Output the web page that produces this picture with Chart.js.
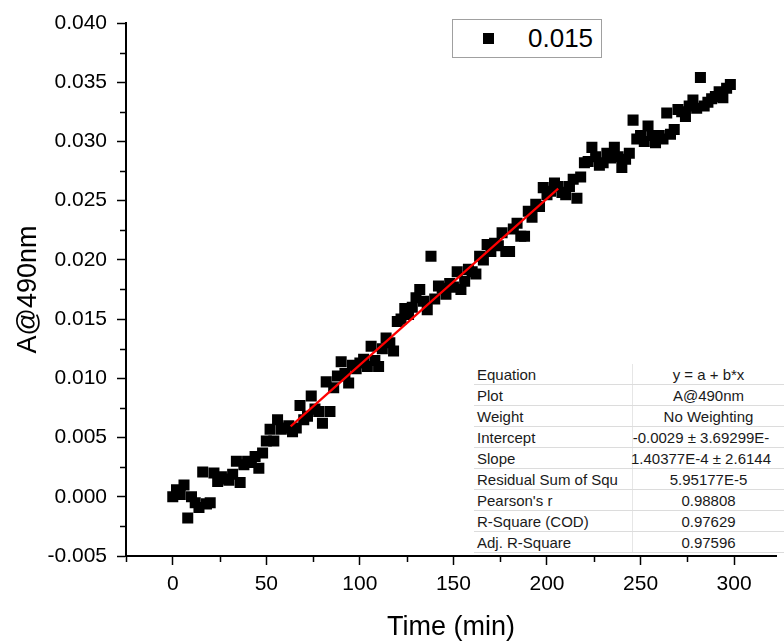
<!DOCTYPE html>
<html>
<head>
<meta charset="utf-8">
<title>A@490nm vs Time</title>
<script src="https://cdn.jsdelivr.net/npm/chart.js@4.4.1/dist/chart.umd.min.js"></script>
<style>
    html, body { margin: 0; padding: 0; background: #fff; overflow: hidden; }
    #wrap { position: relative; width: 784px; height: 641px; overflow: hidden; }
    #chart { position: absolute; left: 0; top: 0; }
    #legend {
        position: absolute; left: 452px; top: 19px; width: 148px; height: 37px;
        border: 1px solid #a0a0a0; background: #fff;
        font: 26px "Liberation Sans", Arial, sans-serif; color: #000;
    }
    #legend .mark { position: absolute; left: 30px; top: 13px; width: 11px; height: 11px; background: #000; }
    #legend .text { position: absolute; left: 75px; top: 0; line-height: 37px; }
    #stats {
        position: absolute; left: 474px; top: 364px; width: 310px;
        border-collapse: collapse; table-layout: fixed; background: #fff;
        font: 15px "Liberation Sans", Arial, sans-serif; color: #1a1a1a;
    }
    #stats td { height: 20px; padding: 0; border-bottom: 1px solid #dcdcdc; white-space: nowrap; }
    #stats td.name { width: 155px; padding-left: 3px; border-right: 1px solid #e6e6e6; }
    #stats td.val { width: 151px; text-align: center; overflow: visible; }
    #stats td.val .wide { display: inline-block; width: 168px; margin-left: -16px; text-align: center; }
</style>
</head>
<body>
<div id="wrap">
    <canvas id="chart" width="784" height="641"></canvas>
    <div id="legend"></div>
    <table id="stats"></table>
</div>
<script>
// measured time points (min)
const timeMin = [
    0, 2, 4, 6, 8, 10, 12, 14, 16, 18,
    20, 22, 24, 26, 28, 30, 32, 34, 36, 38,
    40, 42, 44, 46, 48, 50, 52, 54, 56, 58,
    60, 62, 64, 66, 68, 70, 72, 74, 76, 78,
    80, 82, 84, 86, 88, 90, 92, 94, 96, 98,
    100, 102, 104, 106, 108, 110, 112, 114, 116, 118,
    120, 122, 124, 126, 128, 130, 132, 134, 136, 138,
    140, 142, 144, 146, 148, 150, 152, 154, 156, 158,
    160, 162, 164, 166, 168, 170, 172, 174, 176, 178,
    180, 182, 184, 186, 188, 190, 192, 194, 196, 198,
    200, 202, 204, 206, 208, 210, 212, 214, 216, 218,
    220, 222, 224, 226, 228, 230, 232, 234, 236, 238,
    240, 242, 244, 246, 248, 250, 252, 254, 256, 258,
    260, 262, 264, 266, 268, 270, 272, 274, 276, 278,
    280, 282, 284, 286, 288, 290, 292, 294, 296, 298
];

// absorbance at 490 nm
const absorbance = [
    0.0000, 0.0006, 0.0002, 0.0010, -0.0018, 0.0000, -0.0005, -0.0009, 0.0021, -0.0006,
    -0.0005, 0.0020, 0.0013, 0.0017, 0.0015, 0.0014, 0.0019, 0.0030, 0.0012, 0.0027,
    0.0030, 0.0029, 0.0034, 0.0024, 0.0037, 0.0047, 0.0057, 0.0047, 0.0065, 0.0057,
    0.0058, 0.0060, 0.0055, 0.0058, 0.0077, 0.0065, 0.0068, 0.0085, 0.0074, 0.0072,
    0.0062, 0.0097, 0.0072, 0.0092, 0.0102, 0.0114, 0.0104, 0.0096, 0.0111, 0.0108,
    0.0113, 0.0116, 0.0110, 0.0127, 0.0115, 0.0110, 0.0125, 0.0134, 0.0130, 0.0123,
    0.0148, 0.0150, 0.0159, 0.0154, 0.0160, 0.0168, 0.0175, 0.0165, 0.0158, 0.0203,
    0.0167, 0.0178, 0.0176, 0.0171, 0.0180, 0.0177, 0.0190, 0.0175, 0.0182, 0.0192,
    0.0190, 0.0188, 0.0203, 0.0200, 0.0213, 0.0207, 0.0214, 0.0212, 0.0223, 0.0207,
    0.0207, 0.0226, 0.0231, 0.0220, 0.0220, 0.0241, 0.0236, 0.0247, 0.0245, 0.0261,
    0.0255, 0.0258, 0.0265, 0.0262, 0.0257, 0.0255, 0.0262, 0.0268, 0.0252, 0.0270,
    0.0282, 0.0283, 0.0295, 0.0287, 0.0280, 0.0282, 0.0290, 0.0286, 0.0295, 0.0287,
    0.0278, 0.0285, 0.0290, 0.0318, 0.0302, 0.0305, 0.0300, 0.0313, 0.0305, 0.0299,
    0.0305, 0.0302, 0.0324, 0.0306, 0.0310, 0.0327, 0.0325, 0.0321, 0.0330, 0.0335,
    0.0328, 0.0354, 0.0330, 0.0333, 0.0336, 0.0338, 0.0342, 0.0337, 0.0345, 0.0348
];

// linear fit segment (end points)
const fitTime = [63, 206];
const fitAbs = [0.00594, 0.02602];

const seriesLabel = "0.015";

const xTicks = [-25, 0, 25, 50, 75, 100, 125, 150, 175, 200, 225, 250, 275, 300];
const yTicks = [-0.005, -0.0025, 0, 0.0025, 0.005, 0.0075, 0.01, 0.0125, 0.015, 0.0175,
    0.02, 0.0225, 0.025, 0.0275, 0.03, 0.0325, 0.035, 0.0375, 0.04];

const statNames = ["Equation", "Plot", "Weight", "Intercept", "Slope",
    "Residual Sum of Squ", "Pearson's r", "R-Square (COD)", "Adj. R-Square"];
const statValues = ["y = a + b*x", "A@490nm", "No Weighting", "-0.0029 \u00b1 3.69299E-",
    "1.40377E-4 \u00b1 2.6144", "5.95177E-5", "0.98808", "0.97629", "0.97596"];

const FONT = '"Liberation Sans", Arial, sans-serif';

function isMajorX(v) { return v % 50 === 0; }
function isMajorY(v) { return Math.abs(v / 0.005 - Math.round(v / 0.005)) < 1e-9; }

// short minor ticks, drawn through the scales
const minorTicks = {
    id: "minorTicks",
    afterDraw(chart) {
        const ctx = chart.ctx;
        const xs = chart.scales.x;
        const ys = chart.scales.y;
        ctx.save();
        ctx.strokeStyle = "#000";
        ctx.lineWidth = 1.5;
        ctx.beginPath();
        xs.ticks.forEach(t => {
            if (isMajorX(t.value)) return;
            const px = Math.round(xs.getPixelForValue(t.value)) + 0.5;
            ctx.moveTo(px, xs.top);
            ctx.lineTo(px, xs.top + 6);
        });
        ys.ticks.forEach(t => {
            if (isMajorY(t.value)) return;
            const py = Math.round(ys.getPixelForValue(t.value)) + 0.5;
            ctx.moveTo(ys.right, py);
            ctx.lineTo(ys.right - 6, py);
        });
        ctx.stroke();
        ctx.restore();
    }
};

Chart.defaults.font.family = FONT;
Chart.defaults.color = "#000";

const chart = new Chart(document.getElementById("chart").getContext("2d"), {
    type: "scatter",
    data: {
        datasets: [
            {
                label: "Linear fit",
                data: fitTime.map((t, i) => ({ x: t, y: fitAbs[i] })),
                showLine: true,
                borderColor: "#ff0000",
                borderWidth: 2.2,
                pointRadius: 0,
                order: 0
            },
            {
                label: seriesLabel,
                data: timeMin.map((t, i) => ({ x: t, y: absorbance[i] })),
                pointStyle: "rect",
                pointRadius: 7.8,
                pointBorderWidth: 0,
                backgroundColor: "#000",
                borderColor: "#000",
                order: 1
            }
        ]
    },
    options: {
        responsive: false,
        animation: false,
        events: [],
        layout: { padding: { top: 23, right: 0, left: 0, bottom: 0 } },
        plugins: {
            legend: { display: false },
            tooltip: { enabled: false }
        },
        scales: {
            x: {
                type: "linear",
                min: -25,
                max: 322.5,
                afterBuildTicks: scale => { scale.ticks = xTicks.map(v => ({ value: v })); },
                afterFit: scale => { scale.height = 85; },
                border: { display: true, color: "#000", width: 2 },
                grid: {
                    drawOnChartArea: false,
                    drawTicks: true,
                    tickLength: 9,
                    tickWidth: 1.5,
                    tickColor: c => (c.tick && isMajorX(c.tick.value)) ? "#000" : "rgba(0,0,0,0)"
                },
                ticks: {
                    autoSkip: false,
                    maxRotation: 0,
                    padding: 7,
                    font: { size: 21 },
                    callback: v => isMajorX(v) ? String(v) : ""
                },
                title: {
                    display: true,
                    text: "Time (min)",
                    font: { size: 27, lineHeight: 1 },
                    padding: { top: 0, bottom: 0 }
                }
            },
            y: {
                type: "linear",
                min: -0.005,
                max: 0.04,
                afterBuildTicks: scale => { scale.ticks = yTicks.map(v => ({ value: v })); },
                afterFit: scale => { scale.width = 126; },
                border: { display: true, color: "#000", width: 2 },
                grid: {
                    drawOnChartArea: false,
                    drawTicks: true,
                    tickLength: 9,
                    tickWidth: 1.5,
                    tickColor: c => (c.tick && isMajorY(c.tick.value)) ? "#000" : "rgba(0,0,0,0)"
                },
                ticks: {
                    autoSkip: false,
                    padding: 10,
                    font: { size: 21 },
                    callback: v => isMajorY(v) ? v.toFixed(3) : ""
                },
                title: {
                    display: true,
                    text: "A@490nm",
                    font: { size: 27 },
                    padding: { top: 12, bottom: 0 }
                }
            }
        }
    },
    plugins: [minorTicks]
});

// legend box
const legend = document.getElementById("legend");
legend.innerHTML = '<span class="mark"></span><span class="text"></span>';
legend.querySelector(".text").textContent = chart.data.datasets[1].label;

// fit statistics table
const stats = document.getElementById("stats");
statNames.forEach((name, i) => {
    const tr = document.createElement("tr");
    const tdName = document.createElement("td");
    tdName.className = "name";
    tdName.textContent = name;
    const tdVal = document.createElement("td");
    tdVal.className = "val";
    if (statValues[i].length > 14) {
        const span = document.createElement("span");
        span.className = "wide";
        span.textContent = statValues[i];
        tdVal.appendChild(span);
    } else {
        tdVal.textContent = statValues[i];
    }
    tr.appendChild(tdName);
    tr.appendChild(tdVal);
    stats.appendChild(tr);
});
</script>
</body>
</html>
